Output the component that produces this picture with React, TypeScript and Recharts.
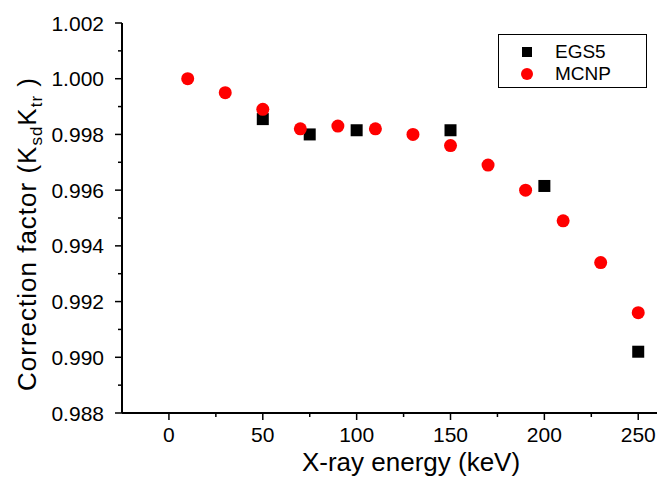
import React from 'react';
import { ScatterChart, Scatter, XAxis, YAxis } from 'recharts';

// EGS5 results (keV, correction factor)
const egsEnergy = [50, 75, 100, 150, 200, 250];
const egsFactor = [0.99855, 0.998, 0.99815, 0.99815, 0.99615, 0.9902];

// MCNP results
const mcnpEnergy = [10, 30, 50, 70, 90, 110, 130, 150, 170, 190, 210, 230, 250];
const mcnpFactor = [1.0, 0.9995, 0.9989, 0.9982, 0.9983, 0.9982, 0.998, 0.9976, 0.9969, 0.996, 0.9949, 0.9934, 0.9916];

const xTicks = [-25, 0, 25, 50, 75, 100, 125, 150, 175, 200, 225, 250];
const yTicks = [0.988, 0.989, 0.99, 0.991, 0.992, 0.993, 0.994, 0.995, 0.996, 0.997, 0.998, 0.999, 1.0, 1.001, 1.002];

const egsData = egsEnergy.map((x, i) => ({ x, y: egsFactor[i] }));
const mcnpData = mcnpEnergy.map((x, i) => ({ x, y: mcnpFactor[i] }));

const FONT = '"Liberation Sans", Arial, sans-serif';

const XTick = (props: any) => {
  const { x, y, payload } = props;
  const v = payload.value;
  const major = v % 50 === 0;
  if (v < 0) return <g />;
  return (
    <g>
      <line x1={x} y1={y} x2={x} y2={y + (major ? 7 : 4)} stroke="#000" strokeWidth={1.5} />
      {major && (
        <text x={x} y={y + 29} textAnchor="middle" fontSize={21} fontFamily={FONT} fill="#000">{v}</text>
      )}
    </g>
  );
};

const YTick = (props: any) => {
  const { x, y, payload } = props;
  const v = payload.value;
  const major = Math.round(v * 1000) % 2 === 0;
  return (
    <g>
      <line x1={x} y1={y} x2={x - (major ? 7 : 4)} y2={y} stroke="#000" strokeWidth={1.5} />
      {major && (
        <text x={x - 18} y={y} dy="0.36em" textAnchor="end" fontSize={21} fontFamily={FONT} fill="#000">{v.toFixed(3)}</text>
      )}
    </g>
  );
};

const YTitle = () => {
  const cx = 36;
  const cy = 234;
  return (
    <text x={cx} y={cy} transform={`rotate(-90, ${cx}, ${cy})`} textAnchor="middle" fontSize={26} letterSpacing={1} fontFamily={FONT} fill="#000">
      Correction factor (K<tspan fontSize={17} dy={6}>sd</tspan><tspan dy={-6}>K</tspan><tspan fontSize={17} dy={6}>tr</tspan><tspan dy={-6}> )</tspan>
    </text>
  );
};

const XTitle = () => (
  <text x={411} y={471} textAnchor="middle" fontSize={26} fontFamily={FONT} fill="#000">X-ray energy (keV)</text>
);

const Square = (props: any) => {
  const { cx, cy } = props;
  return <rect x={cx - 6} y={cy - 6} width={12} height={12} fill="#000" />;
};

const Dot = (props: any) => {
  const { cx, cy } = props;
  return <circle cx={cx} cy={cy} r={6.5} fill="#ff0000" />;
};

const LegendBox = () => (
  <div style={{ position: 'absolute', left: 498, top: 34, width: 149, height: 54, border: '1px solid #000', boxSizing: 'border-box', background: '#fff', fontFamily: FONT, fontSize: 19 }}>
    <div style={{ position: 'absolute', left: 23, top: 12, width: 10, height: 10, background: '#000' }} />
    <div style={{ position: 'absolute', left: 56, top: 6, lineHeight: '22px' }}>EGS5</div>
    <div style={{ position: 'absolute', left: 22, top: 33, width: 12, height: 12, borderRadius: 6, background: '#ff0000' }} />
    <div style={{ position: 'absolute', left: 56, top: 28, lineHeight: '22px' }}>MCNP</div>
  </div>
);

export default function App() {
  return (
    <div style={{ position: 'absolute', left: 0, top: 0, width: 671, height: 477, background: '#fff' }}>
      <ScatterChart width={671} height={477} margin={{ top: 23, right: 14, bottom: 0, left: 0 }}>
        <XAxis
          type="number"
          dataKey="x"
          domain={[-25, 260]}
          ticks={xTicks}
          allowDataOverflow
          height={64}
          tickSize={0}
          tickMargin={0}
          tickLine={false}
          tick={<XTick />}
          axisLine={{ stroke: '#000', strokeWidth: 2 }}
          label={{ content: XTitle }}
        />
        <YAxis
          type="number"
          dataKey="y"
          domain={[0.988, 1.002]}
          ticks={yTicks}
          allowDataOverflow
          width={122}
          tickSize={0}
          tickMargin={0}
          tickLine={false}
          tick={<YTick />}
          axisLine={{ stroke: '#000', strokeWidth: 2 }}
          label={{ content: YTitle }}
        />
        <Scatter name="EGS5" data={egsData} shape={<Square />} isAnimationActive={false} />
        <Scatter name="MCNP" data={mcnpData} shape={<Dot />} isAnimationActive={false} />
      </ScatterChart>
      <LegendBox />
    </div>
  );
}
